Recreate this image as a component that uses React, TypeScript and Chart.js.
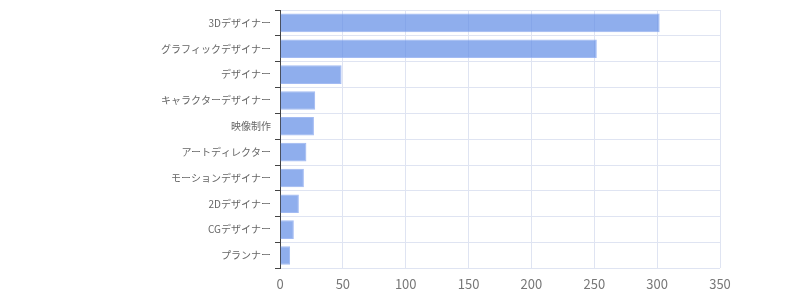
import React, { useEffect, useRef } from "react";
import { Chart, registerables } from "chart.js";

Chart.register(...registerables);

const categories = [
  "3Dデザイナー",
  "グラフィックデザイナー",
  "デザイナー",
  "キャラクターデザイナー",
  "映像制作",
  "アートディレクター",
  "モーションデザイナー",
  "2Dデザイナー",
  "CGデザイナー",
  "プランナー",
];
const counts = [302, 252, 49, 28, 27, 21, 19, 15, 11, 8];
const xMin = 0;
const xMax = 350;
const xStep = 50;

export default function App() {
  const ref = useRef<HTMLCanvasElement | null>(null);
  useEffect(() => {
    if (!ref.current) return;
    const chart = new Chart(ref.current, {
      type: "bar",
      data: {
        labels: categories,
        datasets: [
          {
            data: counts,
            backgroundColor: "rgba(96, 139, 230, 0.7)",
            borderColor: "rgba(140, 170, 240, 0.8)",
            borderWidth: 1,
          },
        ],
      },
      options: {
        indexAxis: "y",
        animation: false,
        responsive: true,
        maintainAspectRatio: false,
        layout: { padding: { top: 8, right: 80, bottom: 0, left: 0 } },
        plugins: { legend: { display: false }, tooltip: { enabled: false } },
        scales: {
          x: {
            min: xMin,
            max: xMax,
            ticks: {
              stepSize: xStep,
              padding: 8,
              color: "#777",
              font: { family: "'Noto Sans CJK JP', 'Noto Sans', sans-serif", size: 13 },
            },
            grid: { color: "#dfe4f2", drawTicks: false },
            border: { display: false },
          },
          y: {
            afterFit: (scale: any) => {
              scale.width = 280;
            },
            ticks: {
              color: "#666",
              padding: 4,
              font: { family: "'Noto Sans CJK JP', 'Noto Sans', sans-serif", size: 10 },
            },
            grid: { color: "#dfe4f2", tickColor: "#444", tickLength: 5 },
            border: { display: true, color: "#444" },
          },
        },
      },
    });
    return () => chart.destroy();
  }, []);
  return (
    <div style={{ position: "fixed", left: 0, top: 0, width: 800, height: 300 }}>
      <canvas ref={ref} />
    </div>
  );
}
